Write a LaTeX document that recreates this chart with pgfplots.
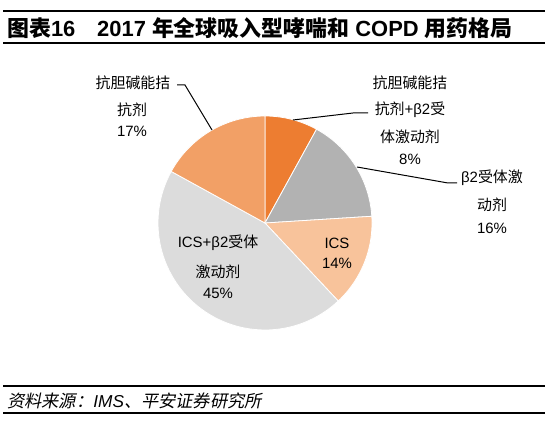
\documentclass[border=0pt]{standalone}
\usepackage{pgfplots}
\pgfplotsset{compat=1.18}
\usepackage{fontspec}
\setmainfont{Liberation Sans}
\newfontfamily\cjk{Noto Sans CJK SC}
\newfontfamily\cjkit[FakeSlant=0.2]{Noto Sans CJK SC}

\definecolor{c1}{HTML}{ED7D31}
\definecolor{c2}{HTML}{B2B2B2}
\definecolor{c3}{HTML}{F8C39B}
\definecolor{c4}{HTML}{DCDCDC}
\definecolor{c5}{HTML}{F2A066}

% one pie slice: start and end as cumulative percent, clockwise from 12 o'clock
\newcommand\slice[3]{%
  \addplot[draw=white, line width=0.8pt, fill=#3, domain=90-3.6*#2:90-3.6*#1,
           samples=60, variable=\t]
    ({265+107*cos(\t)}, {200+107*sin(\t)}) -- (axis cs:265,200) -- cycle;}

\begin{document}
\begin{tikzpicture}
\begin{axis}[width=554bp, height=423bp, scale only axis,
             xmin=0, xmax=554, ymin=0, ymax=423,
             hide axis, clip=false]
  \path (axis cs:0,0) rectangle (axis cs:554,423);

  % shares: 8, 16, 14, 45, 17 (%)
  \slice{0}{8}{c1}
  \slice{8}{24}{c2}
  \slice{24}{38}{c3}
  \slice{38}{83}{c4}
  \slice{83}{100}{c5}

  % leader lines
  \addplot[black, line width=1pt] coordinates {(177,338) (185,338) (212,293)};
  \addplot[black, line width=1pt] coordinates {(293,303) (353,310) (368,310)};
  \addplot[black, line width=1pt] coordinates {(357,256) (448,240) (457,240)};

  % labels
  \begin{scope}[every node/.style={font=\fontsize{15}{18}\selectfont, inner sep=0pt}]
    \node at (axis cs:133,340) {\cjk 抗胆碱能拮};
    \node at (axis cs:132,313) {\cjk 抗剂};
    \node at (axis cs:132,292) {17\%};

    \node at (axis cs:410,340) {\cjk 抗胆碱能拮};
    \node at (axis cs:410,313) {{\cjk 抗剂}+β2{\cjk 受}};
    \node at (axis cs:410,286) {\cjk 体激动剂};
    \node at (axis cs:410,264) {8\%};

    \node at (axis cs:492,245) {β2{\cjk 受体激}};
    \node at (axis cs:492,218) {\cjk 动剂};
    \node at (axis cs:492,195) {16\%};

    \node at (axis cs:337,180) {ICS};
    \node at (axis cs:337,160) {14\%};

    \node at (axis cs:218,180) {ICS+β2{\cjk 受体}};
    \node at (axis cs:218,151) {\cjk 激动剂};
    \node at (axis cs:218,130) {45\%};
  \end{scope}

  % title and source frame
  \addplot[black, line width=1.6pt] coordinates {(3,412) (545,412)};
  \addplot[black, line width=1.6pt] coordinates {(3,380) (545,380)};
  \addplot[black, line width=1.6pt] coordinates {(3,37) (545,37)};
  \addplot[black, line width=1.6pt] coordinates {(3,10) (545,10)};

  \node[anchor=west, inner sep=0pt, font=\fontsize{22}{26}\selectfont\bfseries]
    at (axis cs:7,395) {{\cjk\bfseries 图表}16};
  \node[anchor=west, inner sep=0pt, font=\fontsize{22}{26}\selectfont\bfseries]
    at (axis cs:97,395) {2017 {\cjk\bfseries 年全球吸入型哮喘和} COPD {\cjk\bfseries 用药格局}};
  \node[anchor=west, inner sep=0pt, font=\fontsize{17.3}{20}\selectfont\itshape]
    at (axis cs:7,22) {{\cjkit 资料来源：}IMS{\cjkit 、平安证券研究所}};
\end{axis}
\end{tikzpicture}
\end{document}
